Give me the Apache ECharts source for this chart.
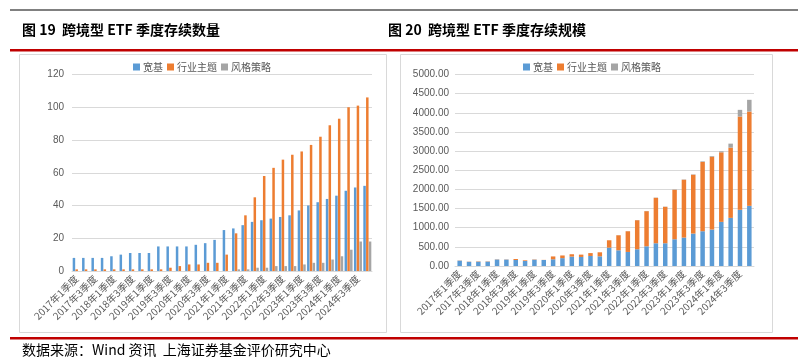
<!DOCTYPE html>
<html>
<head>
<meta charset="utf-8">
<script src="https://cdn.jsdelivr.net/npm/echarts@6/dist/echarts.min.js"></script>
<style>
html,body{margin:0;padding:0;background:#fff;}
#c{width:798px;height:363px;}
</style>
</head>
<body>
<div id="c"></div>
<script>
var categories = ['2017年1季度','2017年2季度','2017年3季度','2017年4季度',
'2018年1季度','2018年2季度','2018年3季度','2018年4季度',
'2019年1季度','2019年2季度','2019年3季度','2019年4季度',
'2020年1季度','2020年2季度','2020年3季度','2020年4季度',
'2021年1季度','2021年2季度','2021年3季度','2021年4季度',
'2022年1季度','2022年2季度','2022年3季度','2022年4季度',
'2023年1季度','2023年2季度','2023年3季度','2023年4季度',
'2024年1季度','2024年2季度','2024年3季度','2024年4季度'];
var seriesNames = ['宽基','行业主题','风格策略'];

// 图19 count
var countBroad = [8,8,8,8,9,10,11,11,11,15,15,15,15,16,17,19,25,26,28,30,31,32,33,34,37,40,42,44,46,49,51,52];
var countIndustry = [1,1,1,1,1,1,1,1,1,1,2,3,4,4,5,5,10,23,34,45,58,63,68,71,73,77,82,89,93,100,101,106];
var countStyle = [0,0,0,0,0,0,0,0,0,0,0,0,0,0,0,0,0,1,1,2,2,3,3,3,4,5,5,7,9,13,18,18];

// 图20 size
var sizeBroad = [140,110,113,115,170,168,157,130,165,157,175,205,245,236,262,253,480,410,367,437,515,594,594,698,742,847,908,952,1152,1257,1467,1571];
var sizeIndustry = [5,5,9,7,5,5,26,18,8,3,75,70,62,61,75,105,192,393,541,759,917,1187,951,1292,1510,1536,1807,1903,1816,1833,2435,2462];
var sizeStyle = [0,0,0,0,0,0,0,0,0,0,0,0,0,0,0,0,0,2,3,4,5,6,6,8,8,10,17,17,26,105,175,306];

var colors = ['#5B9BD5','#ED7D31','#A5A5A5'];
var font = 'Liberation Sans, "Noto Sans CJK SC", sans-serif';
var cjk = '"Noto Sans CJK SC", sans-serif';

var chart = echarts.init(document.getElementById('c'), null, {renderer:'canvas'});

function xAxis(gi){
  return {type:'category', gridIndex:gi, data:categories,
    axisLine:{lineStyle:{color:'#D9D9D9'}}, axisTick:{show:false},
    axisLabel:{interval:1, rotate:45, fontSize:10, color:'#595959', fontFamily:cjk, margin:6}};
}

var option = {
  animation:false,
  color:colors,
  graphic:[
    {type:'rect', shape:{x:10,y:9,width:788,height:2}, style:{fill:'#808080'}},
    {type:'rect', shape:{x:10,y:49,width:788,height:2.5}, style:{fill:'#C00000'}},
    {type:'rect', shape:{x:10,y:337,width:788,height:2.5}, style:{fill:'#C00000'}},
    {type:'rect', shape:{x:19.5,y:54.5,width:367,height:278}, style:{fill:'none',stroke:'#D9D9D9',lineWidth:1}},
    {type:'rect', shape:{x:400.5,y:54.5,width:372,height:278}, style:{fill:'none',stroke:'#D9D9D9',lineWidth:1}},
    {type:'text', left:22, top:23, style:{text:'图 19  跨境型 ETF 季度存续数量', font:'bold 14px "Noto Sans CJK SC", sans-serif', fill:'#000'}},
    {type:'text', left:388, top:23, style:{text:'图 20  跨境型 ETF 季度存续规模', font:'bold 14px "Noto Sans CJK SC", sans-serif', fill:'#000'}},
    {type:'text', left:22, top:343, style:{text:'数据来源：Wind 资讯  上海证券基金评价研究中心', font:'14px "Noto Sans CJK SC", sans-serif', fill:'#000'}}
  ],
  legend:[
    {data:seriesNames, left:128, top:57, itemWidth:7, itemHeight:7, itemGap:4, icon:'rect',
     textStyle:{fontSize:10, color:'#595959', fontFamily:cjk, padding:[0,0,0,-2]}},
    {data:seriesNames, left:518, top:57, itemWidth:7, itemHeight:7, itemGap:4, icon:'rect',
     textStyle:{fontSize:10, color:'#595959', fontFamily:cjk, padding:[0,0,0,-2]}}
  ],
  grid:[
    {left:72, right:426, top:74.5, bottom:92},
    {left:455, right:44, top:74.5, bottom:97}
  ],
  xAxis:[xAxis(0), xAxis(1)],
  yAxis:[
    {type:'value', gridIndex:0, min:0, max:120, interval:20,
     axisLine:{show:false}, axisTick:{show:false},
     splitLine:{lineStyle:{color:'#D9D9D9'}},
     axisLabel:{fontSize:10, color:'#595959', fontFamily:font, margin:8}},
    {type:'value', gridIndex:1, min:0, max:5000, interval:500,
     axisLine:{show:false}, axisTick:{show:false},
     splitLine:{lineStyle:{color:'#D9D9D9'}},
     axisLabel:{fontSize:10, color:'#595959', fontFamily:font, margin:6,
       formatter:function(v){return v.toFixed(2);}}}
  ],
  series:[
    {name:seriesNames[0], type:'bar', xAxisIndex:0, yAxisIndex:0, data:countBroad, barWidth:2.5, barGap:'10%'},
    {name:seriesNames[1], type:'bar', xAxisIndex:0, yAxisIndex:0, data:countIndustry, barWidth:2.5, barGap:'10%'},
    {name:seriesNames[2], type:'bar', xAxisIndex:0, yAxisIndex:0, data:countStyle, barWidth:2.5, barGap:'10%'},
    {name:seriesNames[0], type:'bar', xAxisIndex:1, yAxisIndex:1, stack:'s', data:sizeBroad, barWidth:'48%'},
    {name:seriesNames[1], type:'bar', xAxisIndex:1, yAxisIndex:1, stack:'s', data:sizeIndustry, barWidth:'48%'},
    {name:seriesNames[2], type:'bar', xAxisIndex:1, yAxisIndex:1, stack:'s', data:sizeStyle, barWidth:'48%'}
  ]
};
chart.setOption(option);
</script>
</body>
</html>
